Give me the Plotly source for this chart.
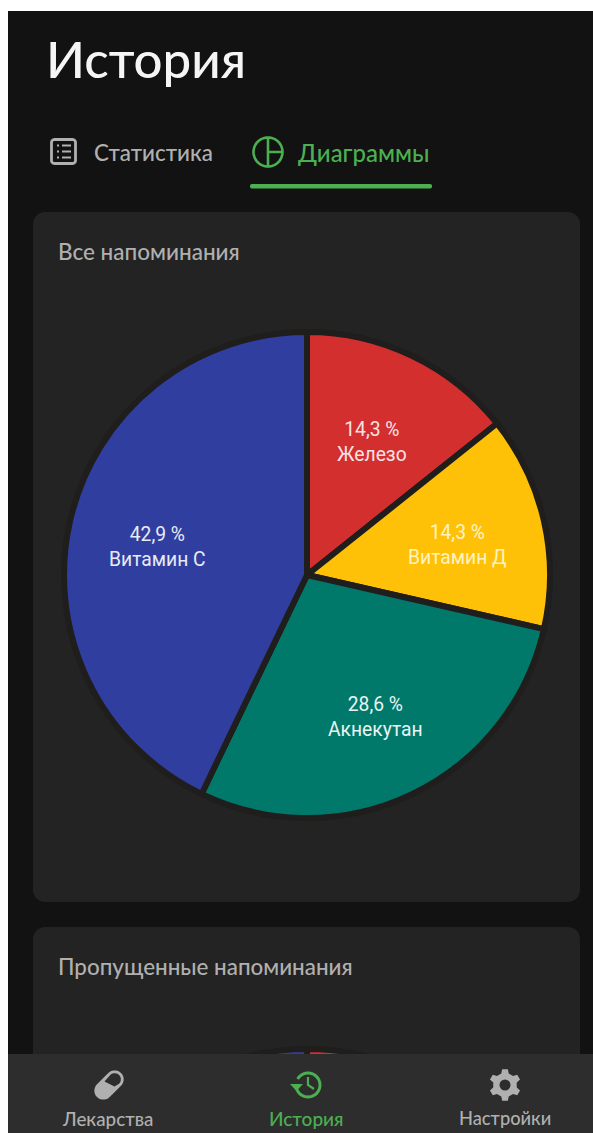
import math
import plotly.graph_objects as go

# Reminder share per medication
labels = ["Железо", "Витамин Д", "Акнекутан", "Витамин С"]
values = [14.3, 14.3, 28.6, 42.9]
colors = ["#D32F2F", "#FFC107", "#00796B", "#303F9F"]
text_colors = ["#F7E3E3", "#FFF3C4", "#EAF4F2", "#E8EAF6"]

# Missed reminders: only the top edge shows above the navigation bar
missed_labels = ["Железо", "Витамин С"]
missed_values = [50, 50]
missed_colors = ["#D32F2F", "#303F9F"]

tabs = ["Статистика", "Диаграммы"]
nav_items = ["Лекарства", "История", "Настройки"]

W, H = 593, 1545
BG, CARD, NAV = "#121212", "#232323", "#2D2D2D"
GAP = "#1F1E1D"
GREEN, GREY = "#4CAF50", "#B0B0B0"
R = 243


def domain(cx, cy, r):
    return dict(x=[(cx - r) / W, (cx + r) / W], y=[1 - (cy + r) / H, 1 - (cy - r) / H])


def arc(cx, cy, r, a0, a1, n=40):
    return [(cx + r * math.cos(math.radians(a0 + (a1 - a0) * i / n)),
             cy + r * math.sin(math.radians(a0 + (a1 - a0) * i / n))) for i in range(n + 1)]


def poly(points, close=True):
    s = "M" + " L".join(f"{x:.2f},{y:.2f}" for x, y in points)
    return s + (" Z" if close else "")


def round_rect(x0, y0, x1, y1, r):
    pts = (arc(x1 - r, y0 + r, r, -90, 0, 8) + arc(x1 - r, y1 - r, r, 0, 90, 8)
           + arc(x0 + r, y1 - r, r, 90, 180, 8) + arc(x0 + r, y0 + r, r, 180, 270, 8))
    return poly(pts)


def rect(x0, y0, x1, y1, color, layer="below"):
    return dict(type="rect", xref="x", yref="y", x0=x0, y0=y0, x1=x1, y1=y1,
                fillcolor=color, line_width=0, layer=layer)


def fill(path, color, layer="below"):
    return dict(type="path", xref="x", yref="y", path=path, fillcolor=color, line_width=0, layer=layer)


def stroke(path, color, width, layer="below"):
    return dict(type="path", xref="x", yref="y", path=path, line=dict(color=color, width=width), layer=layer)


def gear(cx, cy, r_out, r_in, teeth=6):
    pts = []
    step = 360 / teeth
    for i in range(teeth):
        a = i * step - 90
        for da, rr in ((-step * 0.30, r_in), (-step * 0.17, r_out), (step * 0.17, r_out), (step * 0.30, r_in)):
            t = math.radians(a + da)
            pts.append((cx + rr * math.cos(t), cy + rr * math.sin(t)))
    return poly(pts)


def capsule(cx, cy, half, r, angle):
    t = math.radians(angle)
    ax, ay = cx + half * math.cos(t), cy + half * math.sin(t)
    bx, by = cx - half * math.cos(t), cy - half * math.sin(t)
    return arc(ax, ay, r, angle - 90, angle + 90, 14) + arc(bx, by, r, angle + 90, angle + 270, 14)


def pill_hollow(cx, cy, half, r, angle):
    # Open upper half of the pill: rounded end plus a divider across the middle
    t = math.radians(angle)
    ax, ay = cx + half * math.cos(t), cy + half * math.sin(t)
    return arc(ax, ay, r, angle - 90, angle + 90, 14) + [(cx + 5.5, cy + 1.5), (cx - 4.5, cy - 3.5)]


shapes = [
    rect(8, 11, W, H, BG),
    fill(round_rect(33, 212, 580, 902, 12), CARD),
    fill(round_rect(33, 927, 580, 1300, 12), CARD),
    # list icon on the first tab
    stroke(round_rect(51.5, 139.5, 75.5, 163.5, 3), GREY, 2.8),
    stroke("M57,145.5 L59,145.5 M62,145.5 L71,145.5 M57,151.5 L59,151.5 M62,151.5 L71,151.5 "
           "M57,157.5 L59,157.5 M62,157.5 L71,157.5", GREY, 2.2),
    # pie icon on the second tab
    stroke(poly(arc(268, 152, 14.5, 0, 360, 48)), GREEN, 2.6),
    stroke("M268,137.5 L268,166.5 M268,152 L282.5,152", GREEN, 2.6),
    # active tab underline
    fill(round_rect(250, 184, 432, 188.5, 2), GREEN),
    # navigation bar, over the second chart
    rect(8, 1054, W, H, NAV, "above"),
    # pill icon
    fill(poly(capsule(109, 1085, 8, 9, -45)), GREY, "above"),
    fill(poly(pill_hollow(109, 1085, 8, 6.2, -45)), NAV, "above"),
    # history icon
    stroke(poly(arc(308, 1085, 12, -150, 170, 36), close=False), GREEN, 3, "above"),
    fill("M290,1084 L303,1084 L296.5,1091 Z", GREEN, "above"),
    stroke("M308,1077 L308,1085 L314,1089", GREEN, 2.2, "above"),
    # gear icon
    fill(gear(505, 1085, 16, 12), GREY, "above"),
    dict(type="circle", xref="x", yref="y", x0=499.5, y0=1079.5, x1=510.5, y1=1090.5,
         fillcolor=NAV, line_width=0, layer="above"),
]


def note(x, y, text, size, color, family="Lato", anchor="left", weight=400):
    return dict(xref="x", yref="y", x=x, y=y, text=text, showarrow=False, xanchor=anchor, yanchor="middle",
                font=dict(family=family, size=size, color=color, weight=weight))


annotations = [
    note(44, 58, "История", 51, "#F5F5F5", weight=500),
    note(92, 152, tabs[0], 22.4, GREY, weight=500),
    note(296, 152, tabs[1], 24, GREEN, weight=500),
    note(56, 251, "Все напоминания", 22.5, GREY, weight=500),
    note(56, 966, "Пропущенные напоминания", 22.4, GREY, weight=500),
    note(107, 1118, nav_items[0], 18.8, GREY, anchor="center", weight=500),
    note(306, 1118, nav_items[1], 19, GREEN, anchor="center", weight=500),
    note(505, 1118, nav_items[2], 18.3, GREY, anchor="center", weight=500),
]

# Slice captions sit at fixed spots inside each wedge
caption_spots = [(372, 442), (457, 545), (375, 717), (157, 547)]
for v, n, c, (cx, cy) in zip(values, labels, text_colors, caption_spots):
    caption = f"{str(v).replace('.', ',')} %<br>{n}"
    annotations.append(note(cx, cy, caption, 19.3, c, family="Roboto", anchor="center"))

fig = go.Figure()
fig.add_trace(go.Pie(
    labels=labels, values=values, textinfo="none",
    sort=False, direction="clockwise", rotation=0, showlegend=False, hoverinfo="label+percent",
    marker=dict(colors=colors, line=dict(color=GAP, width=6)),
    domain=domain(307, 575, R),
))
fig.add_trace(go.Pie(
    labels=missed_labels, values=missed_values, textinfo="none",
    sort=False, direction="clockwise", rotation=0, showlegend=False, hoverinfo="label+percent",
    marker=dict(colors=missed_colors, line=dict(color=GAP, width=6)),
    domain=domain(307, 1292, R),
))

fig.update_layout(
    width=W, height=H, margin=dict(l=0, r=0, t=0, b=0),
    paper_bgcolor="#FFFFFF", plot_bgcolor="rgba(0,0,0,0)",
    xaxis=dict(range=[0, W], visible=False, fixedrange=True),
    yaxis=dict(range=[H, 0], visible=False, fixedrange=True),
    shapes=shapes, annotations=annotations,
)

fig.write_html(
    "out.html",
    config=dict(displayModeBar=False, responsive=False),
    post_script="document.documentElement.style.overflow='hidden';document.body.style.overflow='hidden';",
)
